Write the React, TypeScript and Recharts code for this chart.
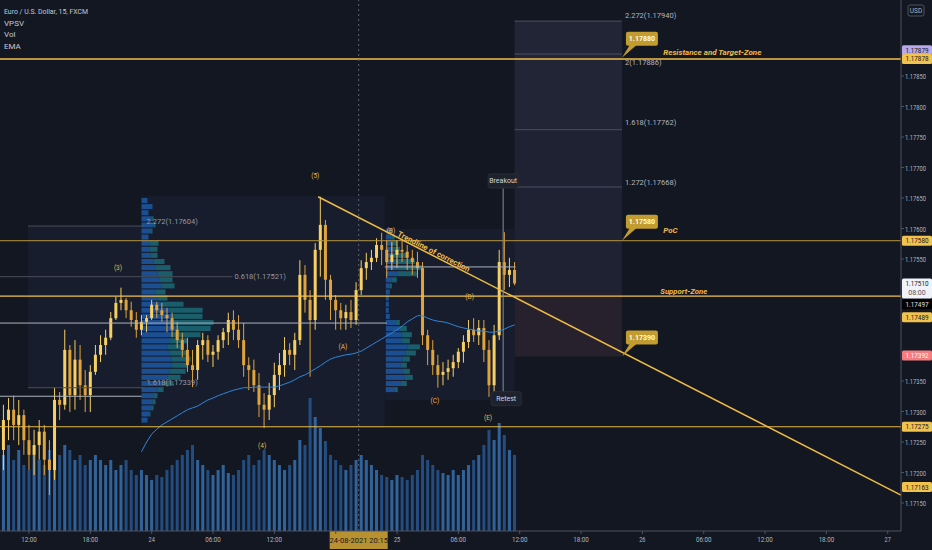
import React from 'react';
import {
  ComposedChart,
  Bar,
  Line,
  XAxis,
  YAxis,
  ReferenceLine,
  ReferenceArea,
  ReferenceDot,
  Cell,
} from 'recharts';

const W = 932;
const H = 550;
const BG = '#131722';
const GOLD = '#f0bb45';
const UP = '#f7cf63';
const DOWN = '#e0a43c';
const AXIS_TEXT = '#b2b5be';
const FONT = 'Roboto, "Noto Sans", sans-serif';

// hours counted from 23 Aug 2021 00:00
const T_MIN = 9.16;
const T_MAX = 97.3;
const P_MIN = 1.171041;
const P_MAX = 1.179746;
const VOL_MAX = 5310;

// 30-min candles, first one at 09:30
const firstTime = 9.5;
const step = 0.5;
const firstOpen = 1.17237;

const highs = [
  1.17311, 1.17322, 1.17326, 1.17319, 1.17303, 1.17278, 1.1727, 1.17286, 1.17278, 1.17253,
  1.17339, 1.17332, 1.17434, 1.17409, 1.17417, 1.17409, 1.17368, 1.17376, 1.17409, 1.17425,
  1.17434, 1.17463, 1.17488, 1.17503, 1.17486, 1.1748, 1.17463, 1.17458, 1.17458, 1.17483,
  1.1748, 1.17478, 1.1747, 1.17462, 1.17447, 1.17429, 1.17421, 1.17401, 1.17417, 1.17429,
  1.17425, 1.17409, 1.17425, 1.17437, 1.17462, 1.17466, 1.17458, 1.17445, 1.17389, 1.17385,
  1.17363, 1.1733, 1.17347, 1.1738, 1.17396, 1.17422, 1.17412, 1.17429, 1.17548, 1.1754,
  1.17499, 1.17576, 1.17652, 1.17614, 1.17524, 1.17491, 1.17478, 1.17475, 1.17483, 1.17512,
  1.17548, 1.1756, 1.17565, 1.17584, 1.17593, 1.17581, 1.17578, 1.17581, 1.17581, 1.17573,
  1.17565, 1.17562, 1.17545, 1.17434, 1.17417, 1.17393, 1.17381, 1.17385, 1.17393, 1.17404,
  1.17425, 1.1745, 1.17453, 1.1745, 1.1745, 1.17417, 1.17442, 1.17565, 1.17594, 1.17552,
  1.17545,
];
const lows = [
  1.17204, 1.17253, 1.17253, 1.17245, 1.17229, 1.17204, 1.17196, 1.17221, 1.17196, 1.17163,
  1.17188, 1.17286, 1.17303, 1.17299, 1.17303, 1.17319, 1.17299, 1.17299, 1.1736, 1.17381,
  1.17393, 1.17417, 1.1745, 1.17466, 1.17453, 1.17439, 1.17421, 1.17425, 1.1743, 1.1745,
  1.17453, 1.17447, 1.1743, 1.17422, 1.17404, 1.17389, 1.17365, 1.1734, 1.17352, 1.17385,
  1.17381, 1.17373, 1.17385, 1.17404, 1.17409, 1.17417, 1.17404, 1.17357, 1.17335, 1.17332,
  1.17291, 1.17273, 1.17286, 1.17307, 1.17335, 1.17357, 1.17376, 1.17368, 1.17409, 1.17462,
  1.17357, 1.17434, 1.17521, 1.17483, 1.1745, 1.17434, 1.17434, 1.17434, 1.17437, 1.17442,
  1.17491, 1.17516, 1.17532, 1.17545, 1.1754, 1.17519, 1.17532, 1.17535, 1.17545, 1.17532,
  1.17524, 1.17519, 1.17409, 1.17376, 1.1736, 1.17339, 1.17343, 1.17352, 1.17357, 1.17371,
  1.1738, 1.17404, 1.17414, 1.17409, 1.17381, 1.17324, 1.17332, 1.17417, 1.17499, 1.17504,
  1.17507,
];
const closes = [
  1.17286, 1.17303, 1.17278, 1.17294, 1.17253, 1.17229, 1.17245, 1.17267, 1.17221, 1.17204,
  1.17319, 1.17311, 1.17401, 1.17327, 1.17385, 1.17343, 1.17327, 1.17365, 1.17393, 1.17409,
  1.17421, 1.17453, 1.17478, 1.17483, 1.17466, 1.1745, 1.17434, 1.17447, 1.17453, 1.17475,
  1.17466, 1.17458, 1.17453, 1.17434, 1.17417, 1.17401, 1.17376, 1.17368, 1.17409, 1.17417,
  1.17393, 1.17398, 1.17417, 1.1743, 1.1745, 1.17434, 1.17417, 1.17376, 1.17368, 1.17343,
  1.17311, 1.17303, 1.17327, 1.1736, 1.17376, 1.17401, 1.17393, 1.17417, 1.17524, 1.17483,
  1.1745, 1.17565, 1.17606, 1.17516, 1.17483, 1.17466, 1.17453, 1.17463, 1.1745, 1.17499,
  1.17535, 1.17545, 1.17552, 1.17573, 1.17565, 1.17545, 1.17557, 1.17565, 1.17562, 1.17552,
  1.17545, 1.17535, 1.17425, 1.17401, 1.17376, 1.1736, 1.17365, 1.17371, 1.17381, 1.17398,
  1.17414, 1.17434, 1.17425, 1.17437, 1.17401, 1.17343, 1.17425, 1.17545, 1.17524, 1.17532,
  1.1751,
];
const volumes = [
  760, 860, 710, 810, 660, 610, 760, 710, 660, 810,
  910, 760, 860, 810, 710, 760, 660, 710, 760, 710,
  660, 710, 610, 660, 710, 610, 560, 610, 560, 510,
  560, 540, 610, 660, 710, 760, 810, 860, 710, 660,
  610, 560, 610, 660, 580, 560, 610, 710, 760, 660,
  710, 810, 760, 710, 660, 610, 660, 710, 910, 860,
  1330, 1140, 1030, 900, 760, 710, 660, 610, 660, 710,
  760, 710, 660, 610, 560, 540, 510, 560, 540, 510,
  560, 610, 760, 710, 660, 610, 580, 560, 610, 560,
  610, 660, 710, 760, 860, 1010, 910, 1080, 960, 810,
  760,
];
const emaValues = [
  null, null, null, null, null, null, null, null, null, null,
  null, null, null, null, null, null, null, null, null, null,
  null, null, null, null, null, null, null, 1.17234, 1.1725, 1.17263,
  1.17271, 1.17278, 1.17283, 1.17288, 1.17293, 1.17298, 1.17303, 1.17306, 1.17309, 1.17314,
  1.17319, 1.17322, 1.17326, 1.17329, 1.17332, 1.17335, 1.17337, 1.17339, 1.17339, 1.1734,
  1.1734, 1.1734, 1.1734, 1.1734, 1.17342, 1.17345, 1.17348, 1.17352, 1.17357, 1.1736,
  1.17365, 1.1737, 1.17375, 1.17381, 1.17386, 1.17389, 1.17391, 1.17393, 1.17394, 1.17396,
  1.17399, 1.17404, 1.17409, 1.17414, 1.17419, 1.17424, 1.17429, 1.17434, 1.1744, 1.17447,
  1.17452, 1.17457, 1.17457, 1.17453, 1.1745, 1.17448, 1.17447, 1.17445, 1.17442, 1.17439,
  1.17437, 1.17435, 1.17434, 1.17432, 1.17432, 1.1743, 1.1743, 1.17432, 1.17435, 1.17439,
  1.17442,
];

// volume profiles (rows of 0.0001, from the top price down)
const ROW = 0.0001;
const HOURS_PER_UNIT = 0.098;
const profile1Start = 23.0;
const profile1Top = 1.1765;
const profile1Blue = [6, 11, 7, 10, 12, 9, 7, 8, 8, 9, 12, 14, 16, 18, 20, 14, 16, 20, 28, 30, 32, 34, 30, 28, 26, 28, 30, 30, 28, 26, 22, 16, 12, 11, 10, 8, 6];
const profile1Teal = [0, 0, 0, 2, 2, 2, 0, 9, 8, 7, 11, 15, 15, 13, 13, 10, 10, 22, 33, 31, 40, 35, 29, 18, 15, 18, 19, 16, 16, 13, 10, 6, 4, 3, 2, 1, 0];
const profile2Start = 46.9;
const profile2Top = 1.176;
const profile2Blue = [5, 6, 6, 7, 8, 10, 12, 12, 6, 4, 3, 3, 3, 3, 4, 10, 14, 16, 16, 22, 20, 17, 15, 17, 19, 15, 9];
const profile2Teal = [2, 3, 5, 7, 13, 19, 25, 19, 5, 2, 1, 0, 0, 0, 0, 4, 7, 10, 8, 12, 10, 7, 6, 7, 8, 6, 3];

const PRICE_TICKS = [1.1715, 1.172, 1.1725, 1.173, 1.1735, 1.1755, 1.176, 1.1765, 1.177, 1.1775, 1.178, 1.1785];
const TIME_TICKS = [12, 18, 24, 30, 36, 42, 48, 54, 60, 66, 72, 78, 84, 90, 96];
const TIME_LABELS = ['12:00', '18:00', '24', '06:00', '12:00', '', '25', '06:00', '12:00', '18:00', '26', '06:00', '12:00', '18:00', '27'];

const BADGES = [
  { price: 1.17879, text: '1.17879', bg: '#b8a8ec', fg: '#131722', dy: -8 },
  { price: 1.17878, text: '1.17878', bg: '#f2c24f', fg: '#131722', dy: 0 },
  { price: 1.1758, text: '1.17580', bg: '#f2c24f', fg: '#131722', dy: 0 },
  { price: 1.1751, text: '1.17510', bg: '#f0f3fa', fg: '#131722', dy: 2, sub: '08:00' },
  { price: 1.17497, text: '1.17497', bg: '#000000', fg: '#e0e3eb', dy: 13 },
  { price: 1.17489, text: '1.17489', bg: '#f2c24f', fg: '#131722', dy: 21 },
  { price: 1.17392, text: '1.17392', bg: '#f77c80', fg: '#ffffff', dy: 0 },
  { price: 1.17275, text: '1.17275', bg: '#f2c24f', fg: '#131722', dy: 0 },
  { price: 1.17163, text: '1.17163', bg: '#f2c24f', fg: '#131722', dy: -8 },
];

const WAVES = [
  { t: 40.0, p: 1.17686, text: '(5)' },
  { t: 20.7, p: 1.17535, text: '(3)' },
  { t: 34.8, p: 1.17244, text: '(4)' },
  { t: 42.7, p: 1.17406, text: '(A)' },
  { t: 47.4, p: 1.17596, text: '(B)' },
  { t: 51.7, p: 1.17317, text: '(C)' },
  { t: 55.1, p: 1.17488, text: '(D)' },
  { t: 56.9, p: 1.17289, text: '(E)' },
];

const BOX_FIBS = [
  { p: 1.1794, text: '2.272(1.17940)', dy: -6 },
  { p: 1.17886, text: '2(1.17886)', dy: 8 },
  { p: 1.17762, text: '1.618(1.17762)', dy: -7 },
  { p: 1.17668, text: '1.272(1.17668)', dy: -5 },
];

const rows = closes.map((close, i) => ({
  t: firstTime + i * step,
  open: i === 0 ? firstOpen : closes[i - 1],
  high: highs[i],
  low: lows[i],
  close,
  range: [lows[i], highs[i]],
  vol: volumes[i],
  ema: emaValues[i],
}));

const Candle = (props: any) => {
  const { x, y, width, height, payload } = props;
  if (!payload || payload.high == null) return null;
  const { open, close, high, low } = payload;
  const top = Math.min(y, y + height);
  const h = Math.abs(height);
  const k = h / (high - low || 1e-9);
  const cx = x + width / 2;
  const bTop = top + (high - Math.max(open, close)) * k;
  const bBot = top + (high - Math.min(open, close)) * k;
  const col = close >= open ? UP : DOWN;
  return (
    <g>
      <line x1={cx} x2={cx} y1={top} y2={top + h} stroke={col} strokeWidth={1} />
      <rect x={x} y={bTop} width={width} height={Math.max(1, bBot - bTop)} fill={col} />
    </g>
  );
};

const PriceTick = (props: any) => {
  const { x, y, payload } = props;
  return (
    <text x={x - 1} y={y} dy={3} fontSize={7} fill={AXIS_TEXT} fontFamily={FONT} textLength={21} lengthAdjust="spacingAndGlyphs">
      {payload.value.toFixed(5)}
    </text>
  );
};

const TimeTick = (props: any) => {
  const { x, y, payload } = props;
  const label = TIME_LABELS[TIME_TICKS.indexOf(payload.value)] || '';
  if (!label) return null;
  return (
    <text x={x} y={y} dy="0.75em" fontSize={8} fill={AXIS_TEXT} fontFamily={FONT} textAnchor="middle" textLength={label.length * 3.1} lengthAdjust="spacingAndGlyphs">
      {label}
    </text>
  );
};

const badgeLabel = (b: any) => (props: any) => {
  const vb = props.viewBox;
  const x = vb.x + vb.width + 1;
  const cy = vb.y + b.dy;
  const h = b.sub ? 20 : 10;
  const top = b.sub ? cy - 7 : cy - 5;
  return (
    <g>
      <rect x={x} y={top} width={30} height={h} rx={1.5} fill={b.bg} />
      <text x={x + 15} y={top + 7.5} fontSize={7} fill={b.fg} fontFamily={FONT} textAnchor="middle" textLength={23} lengthAdjust="spacingAndGlyphs">
        {b.text}
      </text>
      {b.sub && (
        <text x={x + 15} y={top + 17} fontSize={7} fill="#50535e" fontFamily={FONT} textAnchor="middle">
          {b.sub}
        </text>
      )}
    </g>
  );
};

const crosshairLabel = (props: any) => {
  const vb = props.viewBox;
  const x = vb.x;
  const y = vb.y + vb.height;
  return (
    <g>
      <rect x={x - 29} y={y} width={58} height={18} fill="#b89230" />
      <text x={x} y={y + 12} fontSize={7.5} fill="#1b1b1b" fontFamily={FONT} textAnchor="middle">
        24-08-2021 20:15
      </text>
    </g>
  );
};

const textShape = (text: string, opts: any = {}) => (p: any) => {
  const { size = 7, color = GOLD, weight = 'normal', italic = false, anchor = 'middle', rotate = 0, len, dy = 0 } = opts;
  const y = p.cy + dy;
  return (
    <text
      x={p.cx}
      y={y}
      fill={color}
      fontSize={size}
      fontWeight={weight}
      fontStyle={italic ? 'italic' : 'normal'}
      fontFamily={FONT}
      textAnchor={anchor}
      dominantBaseline="central"
      textLength={len}
      lengthAdjust={len ? 'spacingAndGlyphs' : undefined}
      transform={rotate ? `rotate(${rotate} ${p.cx} ${y})` : undefined}
    >
      {text}
    </text>
  );
};

const boxShape = (text: string) => (p: any) => (
  <g>
    <rect x={p.cx - 15} y={p.cy - 7} width={30} height={14} rx={2} fill="#1e222d" stroke="#2a2e39" />
    <text x={p.cx} y={p.cy} fill="#d1d4dc" fontSize={7} fontFamily={FONT} textAnchor="middle" dominantBaseline="central">
      {text}
    </text>
  </g>
);

const calloutShape = (text: string) => (p: any) => (
  <g>
    <path d={`M${p.cx},${p.cy} L${p.cx + 8},${p.cy - 13} L${p.cx + 15},${p.cy - 13} Z`} fill="#c29c2e" />
    <rect x={p.cx + 4} y={p.cy - 26} width={32} height={14} rx={2} fill="#c29c2e" />
    <text x={p.cx + 20} y={p.cy - 19} fill="#fffbe8" fontSize={7} fontWeight="bold" fontFamily={FONT} textAnchor="middle" dominantBaseline="central">
      {text}
    </text>
  </g>
);

const profileAreas = (start: number, top: number, blue: number[], teal: number[], key: string) =>
  blue.flatMap((b, i) => {
    const y2 = top - i * ROW;
    const y1 = y2 - ROW * 0.82;
    const bx = start + b * HOURS_PER_UNIT;
    const out = [
      <ReferenceArea key={`${key}b${i}`} xAxisId="t" yAxisId="p" x1={start} x2={bx} y1={y1} y2={y2} fill="#1f5fb4" fillOpacity={0.75} stroke="none" />,
    ];
    if (teal[i] > 0) {
      out.push(
        <ReferenceArea key={`${key}t${i}`} xAxisId="t" yAxisId="p" x1={bx} x2={bx + teal[i] * HOURS_PER_UNIT} y1={y1} y2={y2} fill="#1d8a94" fillOpacity={0.6} stroke="none" />
      );
    }
    return out;
  });

const seg = (t1: number, p1: number, t2: number, p2: number, stroke: string, w = 1, key?: string) => (
  <ReferenceLine
    key={key}
    xAxisId="t"
    yAxisId="p"
    segment={[{ x: t1, y: p1 }, { x: t2, y: p2 }]}
    stroke={stroke}
    strokeWidth={w}
  />
);

export default function App() {
  return (
    <div style={{ position: 'relative', width: W, height: H, background: BG }}>
      <style>{`body{margin:0;background:${BG};}`}</style>
      <ComposedChart width={W} height={H} data={rows} margin={{ top: 0, right: 0, bottom: 0, left: 0 }}>
        <XAxis
          xAxisId="t"
          type="number"
          dataKey="t"
          domain={[T_MIN, T_MAX]}
          allowDataOverflow
          ticks={TIME_TICKS}
          interval={0}
          height={19}
          tickSize={3}
          tick={<TimeTick />}
          axisLine={{ stroke: '#50535e' }}
          tickLine={{ stroke: '#50535e' }}
        />
        <XAxis xAxisId="tv" type="number" dataKey="t" domain={[T_MIN, T_MAX]} allowDataOverflow hide />
        <YAxis
          yAxisId="p"
          orientation="right"
          type="number"
          domain={[P_MIN, P_MAX]}
          allowDataOverflow
          ticks={PRICE_TICKS}
          interval={0}
          width={31}
          tickSize={3}
          tick={<PriceTick />}
          axisLine={{ stroke: '#50535e' }}
          tickLine={{ stroke: '#50535e' }}
        />
        <YAxis yAxisId="v" type="number" domain={[0, VOL_MAX]} hide />

        {/* shaded zones */}
        <ReferenceArea xAxisId="t" yAxisId="p" x1={11.9} x2={23.0} y1={1.17339} y2={1.17604} fill="#2a3654" fillOpacity={0.22} stroke="none" />
        <ReferenceArea xAxisId="t" yAxisId="p" x1={23.0} x2={46.8} y1={1.17273} y2={1.17653} fill="#22304f" fillOpacity={0.25} stroke="none" />
        <ReferenceArea xAxisId="t" yAxisId="p" x1={46.8} x2={59.5} y1={1.17319} y2={1.17599} fill="#22304f" fillOpacity={0.25} stroke="none" />
        <ReferenceArea xAxisId="t" yAxisId="p" x1={59.5} x2={70.0} y1={1.17762} y2={1.1794} fill="#323449" stroke="none" />
        <ReferenceArea xAxisId="t" yAxisId="p" x1={59.5} x2={70.0} y1={1.17497} y2={1.17762} fill="#2c2e42" stroke="none" />
        <ReferenceArea xAxisId="t" yAxisId="p" x1={59.5} x2={70.0} y1={1.1739} y2={1.17497} fill="#3a2c38" stroke="none" />

        {profileAreas(profile1Start, profile1Top, profile1Blue, profile1Teal, 'p1')}
        {profileAreas(profile2Start, profile2Top, profile2Blue, profile2Teal, 'p2')}

        {/* fib levels and profile lines */}
        {seg(11.9, 1.17604, 23.3, 1.17604, '#4a4e5a', 1, 'f1')}
        {seg(T_MIN, 1.17521, 31.9, 1.17521, '#4a4e5a', 1, 'f2')}
        {seg(11.9, 1.17339, 23.3, 1.17339, '#4a4e5a', 1, 'f3')}
        {seg(T_MIN, 1.17445, 47.0, 1.17445, '#aeb2bd', 1, 'w1')}
        {seg(T_MIN, 1.17325, 23.0, 1.17325, '#aeb2bd', 1, 'w2')}
        {seg(46.8, 1.17537, 59.6, 1.17537, '#aeb2bd', 1, 'w3')}
        {BOX_FIBS.map((f, i) => seg(59.5, f.p, 70.0, f.p, '#4c4f64', 1, `bf${i}`))}

        <Bar xAxisId="tv" yAxisId="v" dataKey="vol" barSize={3} isAnimationActive={false}>
          {rows.map((r, i) => (
            <Cell key={`v${i}`} fill={r.close >= r.open ? '#3b7dc4' : '#2a5f9f'} fillOpacity={0.75} />
          ))}
        </Bar>
        <Line xAxisId="t" yAxisId="p" dataKey="ema" stroke="#2d86db" strokeWidth={1} dot={false} activeDot={false} isAnimationActive={false} />
        <Bar xAxisId="t" yAxisId="p" dataKey="range" barSize={3} shape={<Candle />} isAnimationActive={false} />

        {/* horizontal zones */}
        <ReferenceLine xAxisId="t" yAxisId="p" y={1.17878} stroke="#f2c14e" strokeWidth={1.6} />
        <ReferenceLine xAxisId="t" yAxisId="p" y={1.1758} stroke="#b8953f" strokeWidth={1} />
        <ReferenceLine xAxisId="t" yAxisId="p" y={1.17489} stroke="#f2c14e" strokeWidth={1.2} />
        <ReferenceLine xAxisId="t" yAxisId="p" y={1.17275} stroke="#e6b84a" strokeWidth={1.2} />

        {/* trendline of correction */}
        {seg(40.28, 1.17652, 97.3, 1.17163, '#f0bb45', 1.5, 'trend')}
        {seg(58.38, 1.17666, 58.38, 1.17332, '#8a8d96', 1, 'brk')}

        <ReferenceLine xAxisId="t" yAxisId="p" x={44.25} stroke="#5d606b" strokeDasharray="2 3" label={crosshairLabel} />

        {WAVES.map((w, i) => (
          <ReferenceDot key={`w${i}`} xAxisId="t" yAxisId="p" x={w.t} y={w.p} r={0} shape={textShape(w.text, { size: 6.5, color: '#e8b84a' })} />
        ))}
        <ReferenceDot xAxisId="t" yAxisId="p" x={51.58} y={1.17562} r={0} shape={textShape('Trendline of correction', { size: 8, weight: 'bold', rotate: 26.9, len: 80 })} />
        <ReferenceDot xAxisId="t" yAxisId="p" x={58.38} y={1.17678} r={0} shape={boxShape('Breakout')} />
        <ReferenceDot xAxisId="t" yAxisId="p" x={58.67} y={1.17321} r={0} shape={boxShape('Retest')} />
        <ReferenceDot xAxisId="t" yAxisId="p" x={74.04} y={1.17889} r={0} shape={textShape('Resistance and Target-Zone', { size: 8, weight: 'bold', italic: true, anchor: 'start' })} />
        <ReferenceDot xAxisId="t" yAxisId="p" x={74.04} y={1.17596} r={0} shape={textShape('PoC', { size: 8, weight: 'bold', italic: true, anchor: 'start' })} />
        <ReferenceDot xAxisId="t" yAxisId="p" x={73.75} y={1.17496} r={0} shape={textShape('Support-Zone', { size: 8, weight: 'bold', italic: true, anchor: 'start', len: 47 })} />
        <ReferenceDot xAxisId="t" yAxisId="p" x={70.0} y={1.1788} r={0} shape={calloutShape('1.17880')} />
        <ReferenceDot xAxisId="t" yAxisId="p" x={70.0} y={1.1758} r={0} shape={calloutShape('1.17580')} />
        <ReferenceDot xAxisId="t" yAxisId="p" x={70.0} y={1.1739} r={0} shape={calloutShape('1.17390')} />

        {BOX_FIBS.map((f, i) => (
          <ReferenceDot key={`bl${i}`} xAxisId="t" yAxisId="p" x={70.3} y={f.p} r={0} shape={textShape(f.text, { size: 7.5, color: AXIS_TEXT, anchor: 'start', dy: f.dy })} />
        ))}
        <ReferenceDot xAxisId="t" yAxisId="p" x={23.5} y={1.17604} r={0} shape={textShape('2.272(1.17604)', { size: 7.5, color: '#9598a1', anchor: 'start', dy: -5 })} />
        <ReferenceDot xAxisId="t" yAxisId="p" x={32.1} y={1.17521} r={0} shape={textShape('0.618(1.17521)', { size: 7.5, color: '#9598a1', anchor: 'start' })} />
        <ReferenceDot xAxisId="t" yAxisId="p" x={23.5} y={1.17339} r={0} shape={textShape('1.618(1.17339)', { size: 7.5, color: '#9598a1', anchor: 'start', dy: -5 })} />

        {BADGES.map((b, i) => (
          <ReferenceLine key={`bd${i}`} xAxisId="t" yAxisId="p" y={b.price} stroke="none" label={badgeLabel(b)} />
        ))}
      </ComposedChart>

      <svg width={W} height={H} style={{ position: 'absolute', left: 0, top: 0, pointerEvents: 'none' }}>
        <g fontFamily={FONT} fontSize={8} fill="#c4c7cf">
          <text x={4} y={14} textLength={84} lengthAdjust="spacingAndGlyphs">Euro / U.S. Dollar, 15, FXCM</text>
          <text x={4} y={26}>VPSV</text>
          <text x={4} y={37}>Vol</text>
          <text x={4} y={49}>EMA</text>
        </g>
        <rect x={908} y={5} width={16} height={11} rx={2} fill={BG} stroke="#50535e" />
        <text x={916} y={13} fontSize={6.5} fill={AXIS_TEXT} fontFamily={FONT} textAnchor="middle">USD</text>
      </svg>
    </div>
  );
}
